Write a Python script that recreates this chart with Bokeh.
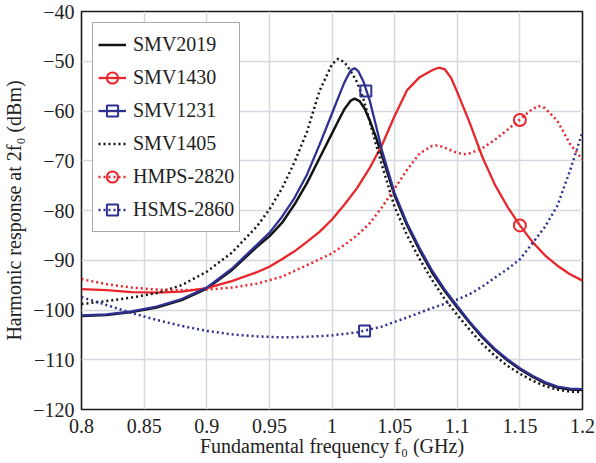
from bokeh.plotting import figure
from bokeh.models import FixedTicker, Legend, LegendItem
from bokeh.embed import file_html
from bokeh.resources import INLINE

# ---------------- data ----------------
x_2019 = [0.80, 0.82, 0.84, 0.86, 0.88, 0.90, 0.92, 0.94, 0.95, 0.96, 0.97, 0.98, 0.99, 1.00,
          1.005, 1.01, 1.015, 1.018, 1.022, 1.026, 1.03, 1.035, 1.04, 1.05, 1.06, 1.07, 1.08,
          1.09, 1.10, 1.11, 1.12, 1.13, 1.14, 1.15, 1.16, 1.17, 1.18, 1.19, 1.20]
y_2019 = [-101.2, -101.0, -100.4, -99.5, -98.0, -95.7, -92.0, -87.3, -85.2, -82.5, -78.8, -74.5,
          -69.5, -64.5, -62.0, -59.6, -57.9, -57.5, -58.0, -59.5, -61.8, -65.2, -69.0, -77.0,
          -83.0, -88.0, -92.5, -96.2, -99.5, -102.6, -105.5, -108.0, -110.1, -111.9, -113.4,
          -114.7, -115.6, -116.0, -116.1]

x_1430 = [0.80, 0.82, 0.84, 0.86, 0.88, 0.90, 0.92, 0.94, 0.95, 0.96, 0.97, 0.98, 0.99, 1.00,
          1.01, 1.02, 1.03, 1.04, 1.05, 1.06, 1.07, 1.08, 1.085, 1.09, 1.095, 1.10, 1.11, 1.12,
          1.13, 1.14, 1.15, 1.16, 1.17, 1.18, 1.19, 1.20]
y_1430 = [-95.8, -96.0, -96.4, -96.5, -96.3, -95.6, -94.2, -92.4, -91.3, -89.8, -88.2, -86.3,
          -84.3, -81.8, -78.8, -75.5, -71.5, -66.8, -61.0, -55.8, -53.2, -51.8, -51.3, -51.6,
          -53.3, -56.2, -62.4, -69.2, -74.8, -79.2, -83.0, -86.3, -89.0, -91.1, -92.8, -94.1]
m_1430_x = [1.15]
m_1430_y = [-83.0]

x_1231 = [0.80, 0.82, 0.84, 0.86, 0.88, 0.90, 0.92, 0.94, 0.95, 0.96, 0.97, 0.98, 0.99, 1.00,
          1.005, 1.01, 1.015, 1.018, 1.021, 1.025, 1.03, 1.035, 1.04, 1.05, 1.06, 1.07, 1.08,
          1.09, 1.10, 1.11, 1.12, 1.13, 1.14, 1.15, 1.16, 1.17, 1.18, 1.19, 1.20]
y_1231 = [-101.1, -100.9, -100.3, -99.3, -97.8, -95.5, -91.7, -86.9, -84.5, -81.3, -77.5, -72.8,
          -66.8, -60.5, -57.3, -54.2, -51.8, -51.4, -52.0, -54.0, -57.8, -62.8, -68.0, -76.5,
          -82.6, -87.6, -92.1, -95.9, -99.2, -102.4, -105.3, -107.8, -109.9, -111.7, -113.2,
          -114.5, -115.4, -115.8, -115.9]
m_1231_x = [1.027]
m_1231_y = [-56.0]

x_1405 = [0.80, 0.82, 0.84, 0.86, 0.88, 0.90, 0.92, 0.94, 0.95, 0.96, 0.97, 0.98, 0.99, 1.00,
          1.005, 1.01, 1.015, 1.02, 1.025, 1.03, 1.035, 1.04, 1.05, 1.06, 1.07, 1.08, 1.09,
          1.10, 1.11, 1.12, 1.13, 1.14, 1.15, 1.16, 1.17, 1.18, 1.19, 1.20]
y_1405 = [-98.8, -98.2, -97.5, -96.6, -95.0, -92.3, -88.5, -83.2, -79.8, -75.6, -70.3, -64.2,
          -56.0, -50.6, -49.5, -50.2, -52.0, -54.2, -57.5, -62.0, -66.6, -71.0, -79.3, -85.0,
          -89.8, -94.0, -97.8, -101.0, -104.0, -106.8, -109.2, -111.2, -112.8, -114.2, -115.3,
          -116.0, -116.4, -116.5]

x_2820 = [0.80, 0.82, 0.84, 0.86, 0.88, 0.90, 0.92, 0.94, 0.96, 0.98, 1.00, 1.01, 1.02, 1.03,
          1.04, 1.05, 1.06, 1.07, 1.08, 1.085, 1.09, 1.10, 1.105, 1.11, 1.12, 1.13, 1.14, 1.15,
          1.16, 1.165, 1.17, 1.18, 1.19, 1.20]
y_2820 = [-93.8, -94.8, -95.5, -95.9, -96.0, -95.9, -95.5, -94.7, -93.3, -91.0, -88.6, -86.9,
          -85.0, -82.6, -79.3, -75.6, -71.8, -68.5, -67.0, -66.9, -67.4, -68.4, -68.7, -68.5,
          -67.5, -65.8, -63.8, -61.7, -59.6, -59.0, -59.4, -62.0, -66.6, -69.8]
m_2820_x = [1.15]
m_2820_y = [-61.8]

x_2860 = [0.80, 0.82, 0.84, 0.86, 0.88, 0.90, 0.92, 0.94, 0.96, 0.98, 1.00, 1.02, 1.04, 1.06,
          1.08, 1.10, 1.11, 1.12, 1.13, 1.14, 1.15, 1.16, 1.17, 1.18, 1.19, 1.20]
y_2860 = [-97.4, -99.0, -100.6, -102.0, -103.2, -104.2, -104.9, -105.3, -105.5, -105.4, -105.1,
          -104.5, -103.3, -101.5, -99.6, -97.9, -96.8, -95.3, -93.5, -91.8, -89.8, -86.6,
          -83.3, -79.0, -72.0, -64.2]
m_2860_x = [1.026]
m_2860_y = [-104.2]

x_ticks = [0.8, 0.85, 0.9, 0.95, 1.0, 1.05, 1.1, 1.15, 1.2]
x_tick_labels = ["0.8", "0.85", "0.9", "0.95", "1", "1.05", "1.1", "1.15", "1.2"]
y_ticks = [-120, -110, -100, -90, -80, -70, -60, -50, -40]

x_title = "Fundamental frequency f\u2080 (GHz)"
y_title = "Harmonic response at 2f\u2080 (dBm)"

# ---------------- styles ----------------
RED = "#e8262b"
BLUE = "#2e3192"
BLACK = "#141414"
FONT = "Liberation Serif"

p = figure(width=596, height=463, x_range=(0.8, 1.2), y_range=(-120, -40),
           output_backend="svg", toolbar_location=None,
           min_border_left=78, min_border_right=14, min_border_top=11, min_border_bottom=54)
p.background_fill_color = "white"
p.border_fill_color = "white"
p.outline_line_color = "#1a1a1a"
p.outline_line_width = 1.6

p.xaxis.ticker = FixedTicker(ticks=x_ticks)
p.xaxis.major_label_overrides = {t: l for t, l in zip(x_ticks, x_tick_labels)}
p.yaxis.ticker = FixedTicker(ticks=y_ticks)
for ax in (p.xaxis, p.yaxis):
    ax.major_tick_in = 0
    ax.major_tick_out = 0
    ax.minor_tick_in = 0
    ax.minor_tick_out = 0
    ax.axis_line_color = None
    ax.major_label_text_font = FONT
    ax.major_label_text_font_size = "20px"
    ax.major_label_text_color = "#222222"
    ax.axis_label_text_font = FONT
    ax.axis_label_text_font_size = "20px"
    ax.axis_label_text_font_style = "normal"
    ax.axis_label_text_color = "#222222"
p.xaxis.major_label_standoff = 9
p.yaxis.major_label_standoff = 7
p.xaxis.axis_label = x_title
p.yaxis.axis_label = y_title
p.xaxis.axis_label_standoff = -1
p.yaxis.axis_label_standoff = 5

p.xgrid.grid_line_color = "#d6d8e0"
p.ygrid.grid_line_color = "#d6d8e0"
p.xgrid.grid_line_width = 1.5
p.ygrid.grid_line_width = 1.5

r_2019 = p.line(x_2019, y_2019, line_color=BLACK, line_width=2.5)
r_1430 = p.line(x_1430, y_1430, line_color=RED, line_width=2.3)
r_1430m = p.scatter(m_1430_x, m_1430_y, marker="circle", size=12, line_color=RED,
                    line_width=2, fill_color=None)
r_1405 = p.line(x_1405, y_1405, line_color=BLACK, line_width=2.5, line_dash="2 3")
r_2820 = p.line(x_2820, y_2820, line_color=RED, line_width=2.5, line_dash="2 3")
r_2820m = p.scatter(m_2820_x, m_2820_y, marker="circle", size=12, line_color=RED,
                    line_width=2, fill_color=None)
r_2860 = p.line(x_2860, y_2860, line_color=BLUE, line_width=2.5, line_dash="2 3")
r_2860m = p.scatter(m_2860_x, m_2860_y, marker="square", size=11, line_color=BLUE,
                    line_width=2, fill_color=None)
r_1231 = p.line(x_1231, y_1231, line_color=BLUE, line_width=2.3)
r_1231m = p.scatter(m_1231_x, m_1231_y, marker="square", size=11, line_color=BLUE,
                    line_width=2, fill_color=None)

legend = Legend(items=[
    LegendItem(label="SMV2019", renderers=[r_2019]),
    LegendItem(label="SMV1430", renderers=[r_1430, r_1430m]),
    LegendItem(label="SMV1231", renderers=[r_1231, r_1231m]),
    LegendItem(label="SMV1405", renderers=[r_1405]),
    LegendItem(label="HMPS-2820", renderers=[r_2820, r_2820m]),
    LegendItem(label="HSMS-2860", renderers=[r_2860, r_2860m]),
], location="top_left")
legend.margin = 11
legend.padding = 5
legend.spacing = 0
legend.glyph_width = 28
legend.glyph_height = 33
legend.label_height = 22
legend.label_standoff = 7
legend.label_text_font = FONT
legend.label_text_font_size = "20px"
legend.label_text_color = "#222222"
legend.border_line_color = "#555555"
legend.border_line_width = 1.3
legend.background_fill_color = "white"
legend.background_fill_alpha = 1.0
p.add_layout(legend)

open("out.html", "w").write(file_html(p, INLINE))
